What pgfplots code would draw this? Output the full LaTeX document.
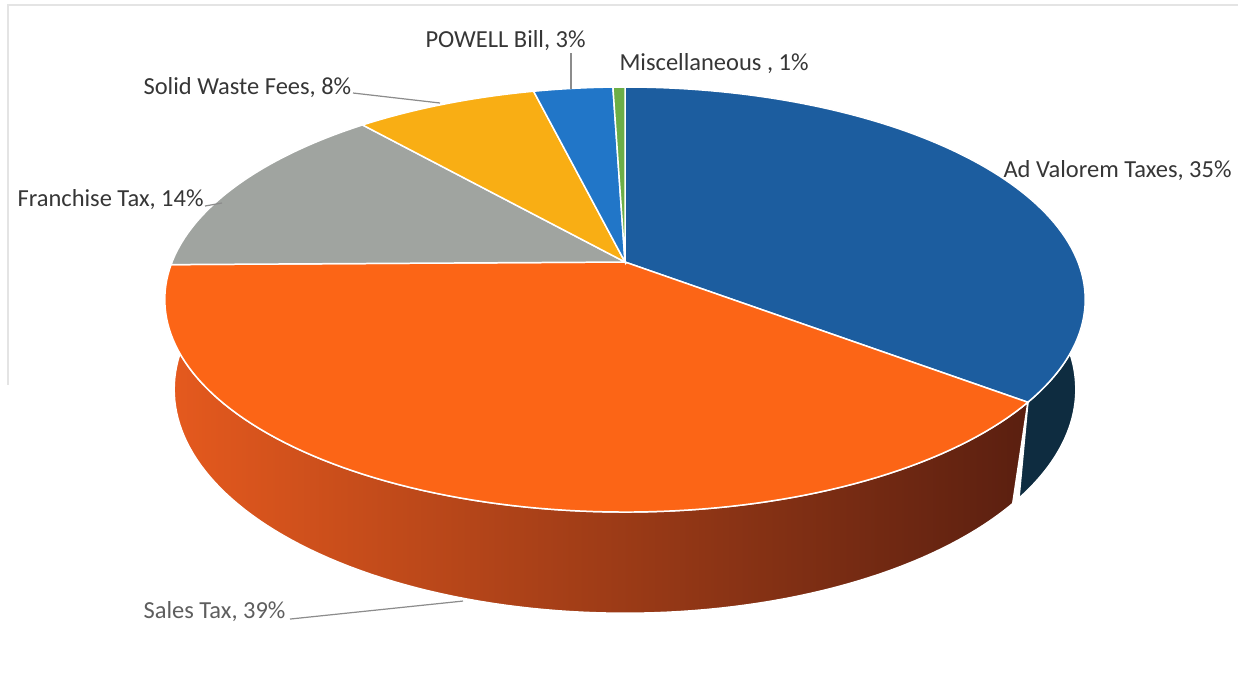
\documentclass[border=0pt]{standalone}
\usepackage{pgfplots}
\usepackage{pgfplotstable}
\pgfplotsset{compat=1.18}
\usepackage{fontspec}
\setmainfont{Carlito}

\definecolor{cAdv}{HTML}{1C5D9F}
\definecolor{cSales}{HTML}{FC6516}
\definecolor{cFran}{HTML}{A0A4A0}
\definecolor{cSolid}{HTML}{F9AE14}
\definecolor{cPow}{HTML}{2176C8}
\definecolor{cMisc}{HTML}{6CAE46}
\definecolor{cAdvSide}{HTML}{0E2C40}
\definecolor{cSL}{HTML}{E65A1E}
\definecolor{cSM}{HTML}{B93F1A}
\definecolor{cSR}{HTML}{5A1F10}
\definecolor{lab}{HTML}{363636}
\definecolor{labL}{HTML}{5E5E5E}
\definecolor{lead}{HTML}{8C8C8C}
\definecolor{frame}{HTML}{E4E4E4}

% share of each source, percent (clockwise from 12 o'clock)
\pgfplotstableread{
name        pct
AdValorem   35.4
SalesTax    39.4
Franchise   13.8
SolidWaste  7.6
Powell      3.3
Misc        0.5
}\piedata

\begin{document}%
\pgfplotstablegetelem{0}{pct}\of\piedata\let\pA\pgfplotsretval%
\pgfplotstablegetelem{1}{pct}\of\piedata\let\pB\pgfplotsretval%
\pgfplotstablegetelem{2}{pct}\of\piedata\let\pC\pgfplotsretval%
\pgfplotstablegetelem{3}{pct}\of\piedata\let\pD\pgfplotsretval%
\pgfplotstablegetelem{4}{pct}\of\piedata\let\pE\pgfplotsretval%
\pgfplotstablegetelem{5}{pct}\of\piedata\let\pF\pgfplotsretval%
\pgfmathsetmacro\aA{90}%
\pgfmathsetmacro\aB{\aA-3.6*\pA}%
\pgfmathsetmacro\aC{\aB-3.6*\pB}%
\pgfmathsetmacro\aD{\aC-3.6*\pC}%
\pgfmathsetmacro\aE{\aD-3.6*\pD}%
\pgfmathsetmacro\aF{\aE-3.6*\pE}%
\pgfmathsetmacro\aG{\aF-3.6*\pF}%
\pgfmathsetmacro\sideOa{\aC-33}%
\pgfmathsetmacro\sideBb{\aB+96}%
\begin{tikzpicture}
\begin{axis}[
  scale only axis, width=16cm, height=8.957cm,
  xmin=0, xmax=1238, ymin=0, ymax=693, y dir=reverse,
  hide axis, clip=false,
  declare function={
    fac(\t,\z)=5.05/(5.05+0.891*sin(\t)-0.4545*\z);
    PX(\t,\z)=625+453*cos(\t)*fac(\t,\z);
    PY(\t,\z)=262-453*(0.4545*sin(\t)+0.891*\z)*fac(\t,\z);
  },
]
% full canvas
\path[use as bounding box] (axis cs:0,0) rectangle (axis cs:1238,693);
% faint scan frame
\draw[frame, line width=0.5pt] (axis cs:8,385) -- (axis cs:8,5) -- (axis cs:1238,5);

% side walls
\addplot[draw=white, line width=0.55pt, fill=cAdvSide, domain=0:2, samples=161, variable=\s]
  ({\s<=1 ? PX(\aB+(\sideBb-\aB)*\s,0) : PX(\sideBb-(\sideBb-\aB)*(\s-1),-0.224)},
   {\s<=1 ? PY(\aB+(\sideBb-\aB)*\s,0) : PY(\sideBb-(\sideBb-\aB)*(\s-1),-0.224)}) -- cycle;
\addplot[draw=white, line width=0.55pt, left color=cSL, middle color=cSM, right color=cSR, domain=0:2, samples=241, variable=\s]
  ({\s<=1 ? PX(\sideOa+(\aB-\sideOa)*\s,0) : PX(\aB-(\aB-\sideOa)*(\s-1),-0.224)},
   {\s<=1 ? PY(\sideOa+(\aB-\sideOa)*\s,0) : PY(\aB-(\aB-\sideOa)*(\s-1),-0.224)}) -- cycle;

% top faces
\addplot[fill=cAdv, draw=white, line width=0.55pt, domain=\aB:\aA, samples=90]
  ({PX(x,0)},{PY(x,0)}) -- (axis cs:625,262) -- cycle;
\addplot[fill=cSales, draw=white, line width=0.55pt, domain=\aC:\aB, samples=100]
  ({PX(x,0)},{PY(x,0)}) -- (axis cs:625,262) -- cycle;
\addplot[fill=cFran, draw=white, line width=0.55pt, domain=\aD:\aC, samples=40]
  ({PX(x,0)},{PY(x,0)}) -- (axis cs:625,262) -- cycle;
\addplot[fill=cSolid, draw=white, line width=0.55pt, domain=\aE:\aD, samples=25]
  ({PX(x,0)},{PY(x,0)}) -- (axis cs:625,262) -- cycle;
\addplot[fill=cPow, draw=white, line width=0.55pt, domain=\aF:\aE, samples=12]
  ({PX(x,0)},{PY(x,0)}) -- (axis cs:625,262) -- cycle;
\addplot[fill=cMisc, draw=white, line width=0.55pt, domain=\aG:\aF, samples=5]
  ({PX(x,0)},{PY(x,0)}) -- (axis cs:625,262) -- cycle;

% leader lines
\draw[lead, line width=0.45pt] (axis cs:571,53) -- (axis cs:571,89);
\draw[lead, line width=0.45pt] (axis cs:353,93) -- (axis cs:440,103);
\draw[lead, line width=0.45pt] (axis cs:205,206) -- (axis cs:222,203);
\draw[lead, line width=0.45pt] (axis cs:290,619) -- (axis cs:463,601);

% labels
\tikzset{lbl/.style={anchor=west, inner sep=0pt, text=lab, font=\fontsize{9}{10}\selectfont}}
\node[lbl] at (axis cs:1003,171) {Ad Valorem Taxes, 35\%};
\node[lbl] at (axis cs:619,64) {Miscellaneous , 1\%};
\node[lbl] at (axis cs:425,41) {POWELL Bill, 3\%};
\node[lbl] at (axis cs:143,88) {Solid Waste Fees, 8\%};
\node[lbl] at (axis cs:17,200) {Franchise Tax, 14\%};
\node[lbl, text=labL] at (axis cs:143,612) {Sales Tax, 39\%};
\end{axis}
\end{tikzpicture}%
\end{document}
